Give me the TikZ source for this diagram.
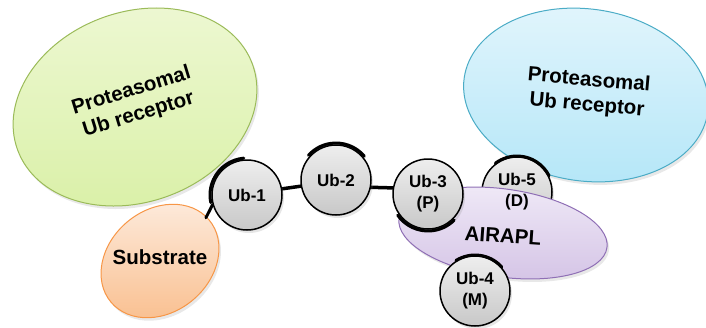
\documentclass[tikz,border=0pt]{standalone}
\usepackage{fontspec}
\setmainfont{Liberation Sans}
\usetikzlibrary{shapes.geometric,shadows}
\definecolor{grfill1}{HTML}{EEF8D4}
\definecolor{grfill2}{HTML}{D9F0A6}
\definecolor{grdraw}{HTML}{9BBB59}
\definecolor{blfill1}{HTML}{E2F5FC}
\definecolor{blfill2}{HTML}{B6E7F8}
\definecolor{bldraw}{HTML}{4BACC6}
\definecolor{orfill1}{HTML}{FDEBDD}
\definecolor{orfill2}{HTML}{F9BF8F}
\definecolor{ordraw}{HTML}{F79646}
\definecolor{pufill1}{HTML}{F0EAF7}
\definecolor{pufill2}{HTML}{D6C6E7}
\definecolor{pudraw}{HTML}{8F6FB5}
\definecolor{ubfill1}{HTML}{EEEEEE}
\definecolor{ubfill2}{HTML}{C8C8C8}
\tikzset{
  blob/.style={ellipse, inner sep=0pt, line width=1pt,
    drop shadow={opacity=0.18, shadow xshift=2pt, shadow yshift=-3pt}},
  bigtext/.style={font=\bfseries\fontsize{20.5}{25}\selectfont, align=center},
  ubtext/.style={font=\bfseries\fontsize{17}{21}\selectfont, align=center},
  ub/.style={circle, minimum size=70pt, inner sep=0pt, draw=black, line width=1.5pt,
    top color=ubfill1, bottom color=ubfill2,
    drop shadow={opacity=0.2, shadow xshift=2pt, shadow yshift=-3pt},
    ubtext},
  bond/.style={line width=3.5pt, black},
  bindarc/.style={line width=3pt, black, line cap=round},
}
\begin{document}
\begin{tikzpicture}[x=1pt,y=1pt]
\useasboundingbox (0,0) rectangle (706,-327);
% big ellipses
\node[blob, draw=grdraw, top color=grfill1, bottom color=grfill2,
  minimum width=250pt, minimum height=190pt, rotate=20] (green) at (135,-107) {};
\node[bigtext, rotate=17] (greentxt) at (135,-103) {Proteasomal\\Ub receptor};
\node[blob, draw=bldraw, top color=blfill1, bottom color=blfill2,
  minimum width=246pt, minimum height=172pt, rotate=-8] (blue) at (586,-95) {};
\node[bigtext, rotate=-5] (bluetxt) at (588,-93) {Proteasomal\\Ub receptor};
\node[blob, draw=ordraw, top color=orfill1, bottom color=orfill2,
  minimum width=128pt, minimum height=102pt, rotate=40] (sub) at (160,-261) {};
\node[bigtext] (subtxt) at (160,-257) {Substrate};
% ubiquitin chain
\coordinate (c1) at (247,-195);
\coordinate (c2) at (336,-180);
\coordinate (c3) at (428,-194);
\coordinate (c5) at (517,-192);
\coordinate (c4) at (475,-291);
\draw[bond] (c1) -- ++(10:35pt) coordinate (b1) -- ([shift={(190:35pt)}]c2);
\draw[bond] ([shift={(-12:35pt)}]c2) -- ([shift={(170:35pt)}]c3);
\node[ub] (ub1) at (c1) {Ub-1};
\node[ub] (ub2) at (c2) {Ub-2};
\node[ub] (ub5) at (c5) {};
\node[blob, draw=pudraw, top color=pufill1, bottom color=pufill2,
  minimum width=210pt, minimum height=88pt, rotate=-8] (airapl) at (503,-233) {};
\node[bigtext, rotate=-4] (airtxt) at (503,-236) {AIRAPL};
\node[ubtext] (ub5txt) at (c5) {Ub-5\\(D)};
\node[ub] (ub3) at (c3) {Ub-3\\(P)};
\node[ub] (ub4) at (c4) {Ub-4\\(M)};
% binding arcs
\draw[bindarc] ([shift={(95:37pt)}]ub1.center) arc[start angle=95, end angle=192, radius=37pt];
\draw[bindarc] ([shift={(196:36pt)}]ub1.center) -- ([shift={(209:47pt)}]ub1.center);
\draw[bindarc] ([shift={(40:37pt)}]ub2.center) arc[start angle=40, end angle=138, radius=37pt];
\draw[bindarc] ([shift={(215:37pt)}]ub3.center) arc[start angle=215, end angle=315, radius=37pt];
\draw[bindarc] ([shift={(27:36pt)}]ub5.center) arc[start angle=27, end angle=127, radius=36pt];
\draw[bindarc] ([shift={(42:36pt)}]ub4.center) arc[start angle=42, end angle=122, radius=36pt];
\end{tikzpicture}
\end{document}
